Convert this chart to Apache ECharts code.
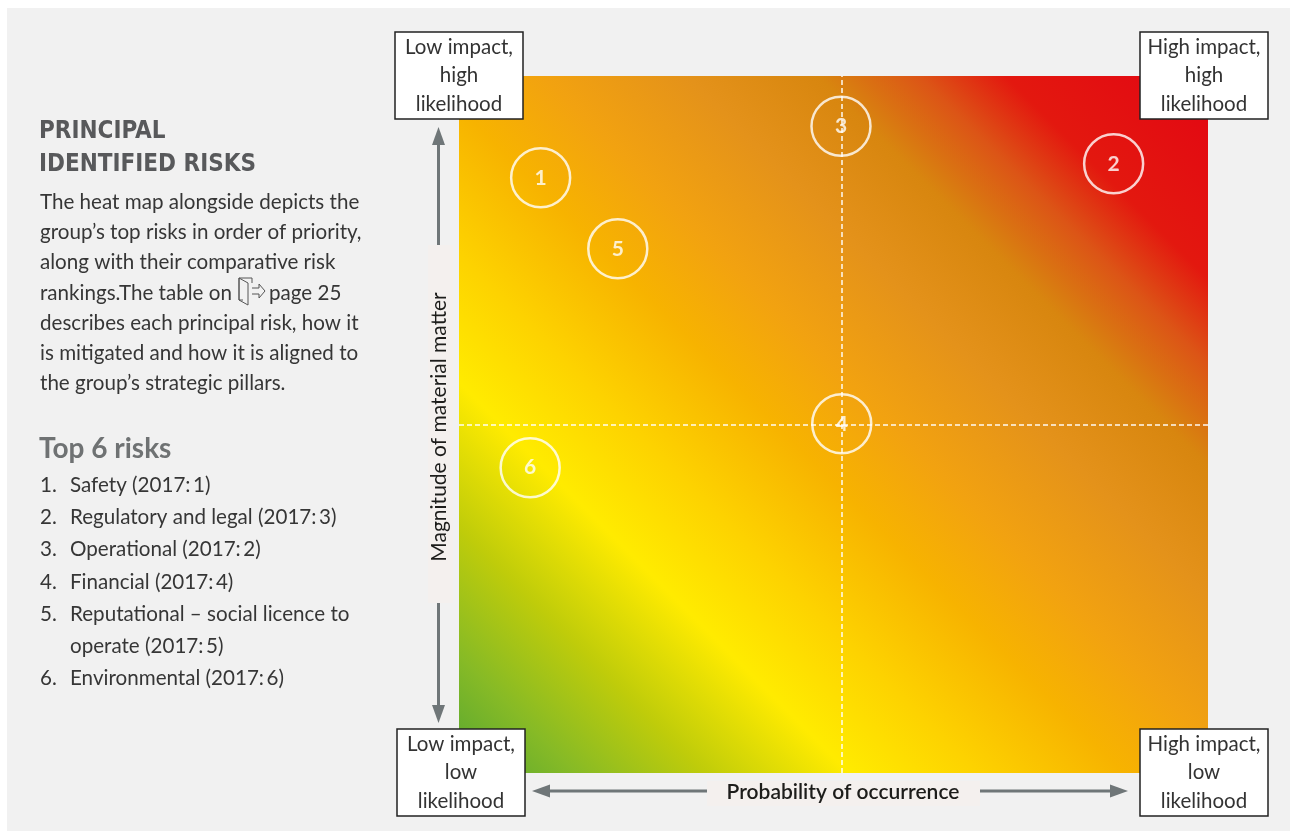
<!DOCTYPE html>
<html>
<head>
<meta charset="utf-8">
<title>Principal identified risks</title>
<script src="https://cdn.jsdelivr.net/npm/echarts@6/dist/echarts.min.js"></script>
<style>
  html, body { margin: 0; padding: 0; background: #ffffff; }
  #chart { width: 1290px; height: 831px; }
</style>
</head>
<body>
<div id="chart"></div>
<script>
// Risk positions on the heat map: x = probability of occurrence, y = magnitude (0–100 scale)
const riskIds = ['1', '2', '3', '4', '5', '6'];
const riskX   = [10.9, 87.4, 51.0, 51.1, 21.2, 9.5];
const riskY   = [85.4, 87.4, 92.8, 50.1, 75.2, 43.8];

// Quadrant divider positions
const dividerX = 51.1;
const dividerY = 50.0;

// Corner captions
const cornerTopLeft     = ['Low impact,', 'high', 'likelihood'];
const cornerTopRight    = ['High impact,', 'high', 'likelihood'];
const cornerBottomLeft  = ['Low impact,', 'low', 'likelihood'];
const cornerBottomRight = ['High impact,', 'low', 'likelihood'];

const xTitle = 'Probability of occurrence';
const yTitle = 'Magnitude of material matter';

// Side panel copy
const headingLines = ['PRINCIPAL', 'IDENTIFIED RISKS'];
const introLines = [
  'The heat map alongside depicts the',
  'group\u2019s top risks in order of priority,',
  'along with their comparative risk',
  'rankings.The table on',
  'describes each principal risk, how it',
  'is mitigated and how it is aligned to',
  'the group\u2019s strategic pillars.'
];
const pageRef = 'page 25';
const listTitle = 'Top 6 risks';
const listNumbers = ['1.', '2.', '3.', '4.', '5.', '', '6.'];
const listTexts = [
  'Safety (2017:\u20091)',
  'Regulatory and legal (2017:\u20093)',
  'Operational (2017:\u20092)',
  'Financial (2017:\u20094)',
  'Reputational \u2013 social licence to',
  'operate (2017:\u20095)',
  'Environmental (2017:\u20096)'
];

const BODY_FONT = 'Lato, "Open Sans", sans-serif';
const HEAD_FONT = '"Liberation Sans Narrow", "DejaVu Sans Condensed", Lato, sans-serif';
const TEXT_COLOR = '#363636';
const BODY = '20.6px ' + BODY_FONT;

// Plot area
const G = { left: 459, top: 76, width: 749, height: 697 };

const heatFill = new echarts.graphic.LinearGradient(
  G.left, G.top + G.height, G.left + 723, G.top + G.height - 723,
  [
    { offset: 0.00, color: '#55a632' },
    { offset: 0.08, color: '#86ba26' },
    { offset: 0.17, color: '#bfcc0a' },
    { offset: 0.27, color: '#ffeb00' },
    { offset: 0.36, color: '#fdd200' },
    { offset: 0.46, color: '#f7b300' },
    { offset: 0.54, color: '#f2a210' },
    { offset: 0.64, color: '#e4921a' },
    { offset: 0.73, color: '#d8860f' },
    { offset: 0.80, color: '#dc5516' },
    { offset: 0.86, color: '#e3180f' },
    { offset: 1.00, color: '#e30613' }
  ],
  true
);

function cornerBox(x, y, lines) {
  const w = 128, h = 87;
  const children = [{
    type: 'rect',
    shape: { x: 0, y: 0, width: w, height: h },
    style: { fill: '#ffffff', stroke: '#222222', lineWidth: 1.5 }
  }];
  lines.forEach((t, i) => {
    children.push({
      type: 'text',
      x: w / 2, y: 15 + i * 28.5,
      style: { text: t, fill: '#333333', font: '20.5px ' + BODY_FONT, align: 'center', verticalAlign: 'middle' }
    });
  });
  return { type: 'group', x: x, y: y, children: children };
}

const arrowColor = '#6f7678';

const graphics = [
  // white page margins
  { type: 'rect', shape: { x: 0, y: 0, width: 1290, height: 8 }, style: { fill: '#ffffff' } },
  { type: 'rect', shape: { x: 0, y: 0, width: 7, height: 831 }, style: { fill: '#ffffff' } },

  // vertical axis arrow
  { type: 'line', shape: { x1: 438.5, y1: 140, x2: 438.5, y2: 710 }, style: { stroke: arrowColor, lineWidth: 3 } },
  { type: 'polygon', shape: { points: [[438.5, 127], [445, 145], [432, 145]] }, style: { fill: arrowColor } },
  { type: 'polygon', shape: { points: [[438.5, 723], [445, 705], [432, 705]] }, style: { fill: arrowColor } },
  { type: 'rect', shape: { x: 428, y: 245, width: 25, height: 358 }, style: { fill: '#f4f0ee' } },
  {
    type: 'text', x: 439, y: 427, rotation: Math.PI / 2,
    style: { text: yTitle, fill: '#1d1d1b', font: '21px ' + BODY_FONT, align: 'center', verticalAlign: 'middle' }
  },

  // horizontal axis arrow
  { type: 'line', shape: { x1: 545, y1: 791, x2: 1115, y2: 791 }, style: { stroke: arrowColor, lineWidth: 3 } },
  { type: 'polygon', shape: { points: [[532, 791], [550, 784.5], [550, 797.5]] }, style: { fill: arrowColor } },
  { type: 'polygon', shape: { points: [[1128, 791], [1110, 784.5], [1110, 797.5]] }, style: { fill: arrowColor } },
  { type: 'rect', shape: { x: 707, y: 781, width: 273, height: 25 }, style: { fill: '#f4f0ee' } },
  {
    type: 'text', x: 843, y: 792,
    style: { text: xTitle, fill: '#1d1d1b', font: '600 21px ' + BODY_FONT, align: 'center', verticalAlign: 'middle' }
  },

  cornerBox(395, 32, cornerTopLeft),
  cornerBox(1140, 32, cornerTopRight),
  cornerBox(397, 729, cornerBottomLeft),
  cornerBox(1140, 729, cornerBottomRight)
];

// Side panel heading
headingLines.forEach((t, i) => {
  graphics.push({
    type: 'text', x: 39, y: 132 + i * 33,
    style: { text: t, fill: '#58595b', font: 'bold 24px ' + HEAD_FONT, align: 'left', verticalAlign: 'middle' }
  });
});

// Intro paragraph
introLines.forEach((t, i) => {
  graphics.push({
    type: 'text', x: 40, y: 202 + i * 30.3,
    style: { text: t, fill: TEXT_COLOR, font: BODY, align: 'left', verticalAlign: 'middle' }
  });
});
graphics.push({
  type: 'text', x: 269, y: 202 + 3 * 30.3,
  style: { text: pageRef, fill: TEXT_COLOR, font: BODY, align: 'left', verticalAlign: 'middle' }
});
// page-link door icon
graphics.push({
  type: 'group', x: 3, y: 0,
  children: [
    { type: 'polyline', shape: { points: [[249, 283], [249, 278], [236, 278], [236, 300], [240, 300]] }, style: { stroke: '#555', lineWidth: 1, fill: null } },
    { type: 'polygon', shape: { points: [[236, 278], [245, 283], [245, 305], [236, 300]] }, style: { stroke: '#555', lineWidth: 1, fill: 'rgba(0,0,0,0)' } },
    { type: 'polyline', shape: { points: [[249, 288], [256, 288], [256, 284], [262, 291], [256, 298], [256, 294], [249, 294]] }, style: { stroke: '#555', lineWidth: 1, fill: null } }
  ]
});

// Top risks list
graphics.push({
  type: 'text', x: 39, y: 449,
  style: { text: listTitle, fill: '#6f7273', font: 'bold 28px ' + BODY_FONT, align: 'left', verticalAlign: 'middle' }
});
listTexts.forEach((t, i) => {
  const y = 485 + i * 32.3;
  if (listNumbers[i]) {
    graphics.push({
      type: 'text', x: 40, y: y,
      style: { text: listNumbers[i], fill: TEXT_COLOR, font: BODY, align: 'left', verticalAlign: 'middle' }
    });
  }
  graphics.push({
    type: 'text', x: 70, y: y,
    style: { text: t, fill: TEXT_COLOR, font: BODY, align: 'left', verticalAlign: 'middle' }
  });
});

const chart = echarts.init(document.getElementById('chart'), null, { renderer: 'canvas' });

chart.setOption({
  backgroundColor: '#f1f1f1',
  animation: false,
  grid: {
    left: G.left, top: G.top, width: G.width, height: G.height,
    show: true, borderWidth: 0, backgroundColor: heatFill
  },
  xAxis: { type: 'value', min: 0, max: 100, show: false },
  yAxis: { type: 'value', min: 0, max: 100, show: false },
  graphic: graphics,
  series: [{
    type: 'scatter',
    data: riskIds.map((id, i) => ({ name: id, value: [riskX[i], riskY[i]] })),
    symbol: 'circle',
    symbolSize: 59,
    itemStyle: { color: 'rgba(255,255,255,0)', borderColor: '#ffffff', borderWidth: 2.5 },
    label: {
      show: true, position: 'inside', formatter: '{b}',
      color: '#ffffff', fontFamily: BODY_FONT, fontWeight: 'bold', fontSize: 21
    },
    markLine: {
      silent: true,
      symbol: 'none',
      label: { show: false },
      lineStyle: { color: '#ffffff', type: [5, 3], width: 1.5, opacity: 0.95 },
      data: [{ xAxis: dividerX }, { yAxis: dividerY }]
    },
    z: 3
  }]
});
</script>
</body>
</html>
